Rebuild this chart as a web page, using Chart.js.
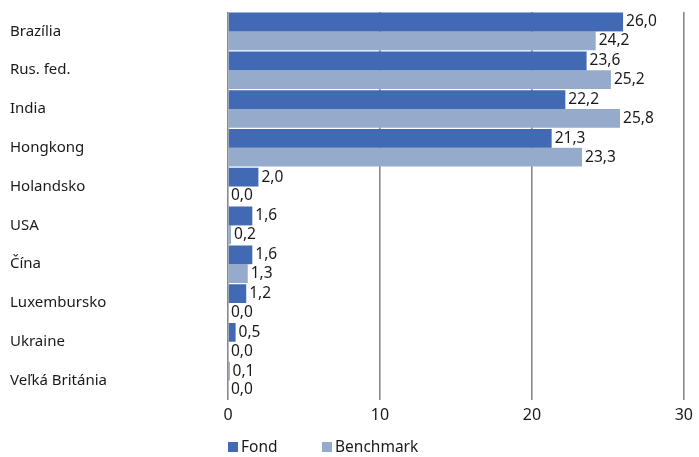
<!DOCTYPE html>
<html>
<head>
<meta charset="utf-8">
<script src="https://cdn.jsdelivr.net/npm/chart.js@4/dist/chart.umd.min.js"></script>
<style>
html,body{margin:0;padding:0;background:#fff;}
#wrap{width:699px;height:457px;position:relative;}
</style>
</head>
<body>
<div id="wrap"><canvas id="c"></canvas></div>
<script>
const categories = ["Brazília","Rus. fed.","India","Hongkong","Holandsko","USA","Čína","Luxembursko","Ukraine","Veľká Británia"];
const fondValues = [26.0,23.6,22.2,21.3,2.0,1.6,1.6,1.2,0.5,0.1];
const benchmarkValues = [24.2,25.2,25.8,23.3,0.0,0.2,1.3,0.0,0.0,0.0];
const seriesNames = ["Fond","Benchmark"];
const xTicks = [0,10,20,30];

const COLORS = ["#4169b4","#95abcc"];
const FONT = "'Noto Sans', 'Open Sans', sans-serif";

const labelPlugin = {
  id: 'valueLabels',
  afterDatasetsDraw(chart) {
    const ctx = chart.ctx;
    ctx.save();
    ctx.font = "15.5px " + FONT;
    ctx.textBaseline = 'middle';
    ctx.textAlign = 'left';
    chart.data.datasets.forEach((ds, di) => {
      const meta = chart.getDatasetMeta(di);
      meta.data.forEach((bar, i) => {
        const txt = ds.data[i].toFixed(1).replace('.', ',');
        const w = ctx.measureText(txt).width;
        const x = bar.x + 2;
        const y = bar.y;
        ctx.fillStyle = '#ffffff';
        ctx.fillRect(x, y - 9, w + 3, 18);
        ctx.fillStyle = '#1a1a1a';
        ctx.fillText(txt, x + 1, y);
      });
    });
    ctx.restore();
  }
};

const legendPlugin = {
  id: 'customLegend',
  afterDraw(chart) {
    const ctx = chart.ctx;
    const left = chart.chartArea.left;
    const y = 447;
    ctx.save();
    ctx.font = "15.5px " + FONT;
    ctx.textBaseline = 'middle';
    ctx.textAlign = 'left';
    const offsets = [0, 94];
    seriesNames.forEach((n, i) => {
      const x = left + offsets[i];
      ctx.fillStyle = COLORS[i];
      ctx.fillRect(x, y - 5, 10, 10);
      ctx.fillStyle = '#1a1a1a';
      ctx.fillText(n, x + 13, y + 1);
    });
    ctx.restore();
  }
};

new Chart(document.getElementById('c'), {
  type: 'bar',
  data: {
    labels: categories,
    datasets: [
      { label: seriesNames[0], data: fondValues, backgroundColor: COLORS[0], barPercentage: 1.0, categoryPercentage: 0.97 },
      { label: seriesNames[1], data: benchmarkValues, backgroundColor: COLORS[1], barPercentage: 1.0, categoryPercentage: 0.97 }
    ]
  },
  options: {
    indexAxis: 'y',
    responsive: true,
    maintainAspectRatio: false,
    animation: false,
    layout: { padding: { left: 10, right: 14, top: 12, bottom: 35 } },
    plugins: { legend: { display: false }, tooltip: { enabled: false } },
    scales: {
      x: {
        min: 0, max: 30,
        afterBuildTicks(scale) { scale.ticks = xTicks.map(v => ({ value: v })); },
        afterFit(scale) { scale.height = 22; },
        grid: { color: '#8a8a8a', lineWidth: 1.6, drawTicks: false },
        border: { display: false },
        ticks: { color: '#1a1a1a', font: { family: FONT, size: 16 }, padding: 6 }
      },
      y: {
        afterFit(scale) { scale.width = 218; },
        grid: { display: false, drawTicks: false },
        border: { display: false },
        ticks: { crossAlign: 'far', color: '#1a1a1a', font: { family: FONT, size: 15 }, padding: 0 }
      }
    }
  },
  plugins: [labelPlugin, legendPlugin]
});
</script>
</body>
</html>
